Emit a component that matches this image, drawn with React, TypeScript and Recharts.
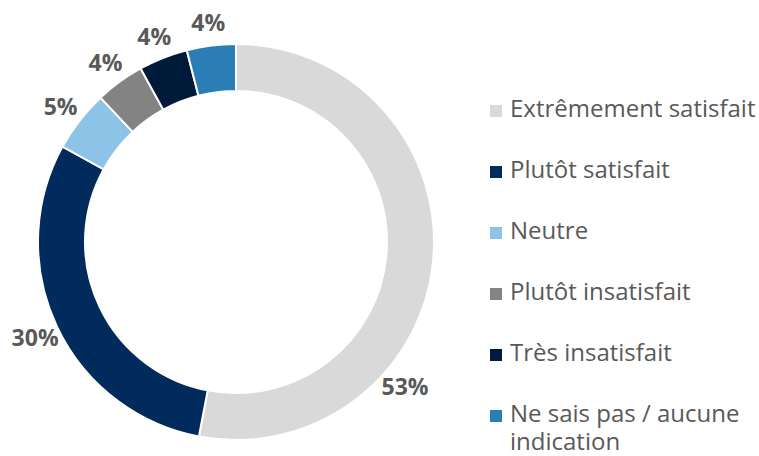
import { PieChart, Pie, Cell, Legend } from 'recharts'

const categories = [
  'Extrêmement satisfait',
  'Plutôt satisfait',
  'Neutre',
  'Plutôt insatisfait',
  'Très insatisfait',
  'Ne sais pas / aucune indication',
]
const values = [53, 30, 5, 4, 4, 4]
const colors = ['#d9d9d9', '#002b5c', '#8dc3e6', '#838383', '#001b3a', '#2a7db5']

const data = categories.map((name, i) => ({ name, value: values[i] }))

const RAD = Math.PI / 180

const renderLabel = (props: any) => {
  const { cx, cy, outerRadius, midAngle, percent, value } = props
  // the big slice label sits lower, toward the bottom right as in the source
  const angle = percent > 0.5 ? midAngle - 35 : midAngle
  const r = outerRadius + 24
  const x = cx + r * Math.cos(-angle * RAD)
  const y = cy + r * Math.sin(-angle * RAD)
  return (
    <text x={x} y={y} textAnchor="middle" dominantBaseline="central"
      style={{ fontFamily: '"Open Sans"', fontSize: 23, fontWeight: 700, fill: '#595959' }}>
      {`${value}%`}
    </text>
  )
}

// legend keeps the data order (no sorting)
const renderLegend = () => (
  <div style={{ fontFamily: '"Open Sans"', fontSize: 24, color: '#595959', lineHeight: '28px' }}>
    {categories.map((name, i) => (
      <div key={name} style={{ display: 'flex', alignItems: 'flex-start', marginBottom: i < categories.length - 1 ? 33 : 0 }}>
        <span style={{ width: 12, height: 12, background: colors[i], marginTop: 11, marginRight: 8, flexShrink: 0 }} />
        <span style={{ width: 249 }}>{name}</span>
      </div>
    ))}
  </div>
)

export default function App() {
  return (
    <div>
      <style>{'body{margin:0}'}</style>
      <PieChart width={759} height={456} margin={{ top: 0, right: 0, bottom: 0, left: 0 }}>
        <Pie data={data} dataKey="value" nameKey="name" cx={236} cy={242}
          innerRadius={151} outerRadius={198} startAngle={90} endAngle={-270}
          stroke="#ffffff" strokeWidth={2} label={renderLabel} labelLine={false}
          isAnimationActive={false}>
          {data.map((d, i) => <Cell key={d.name} fill={colors[i]} />)}
        </Pie>
        <Legend content={renderLegend} layout="vertical"
          wrapperStyle={{ left: 490, top: 94, width: 269 }} />
      </PieChart>
    </div>
  )
}
